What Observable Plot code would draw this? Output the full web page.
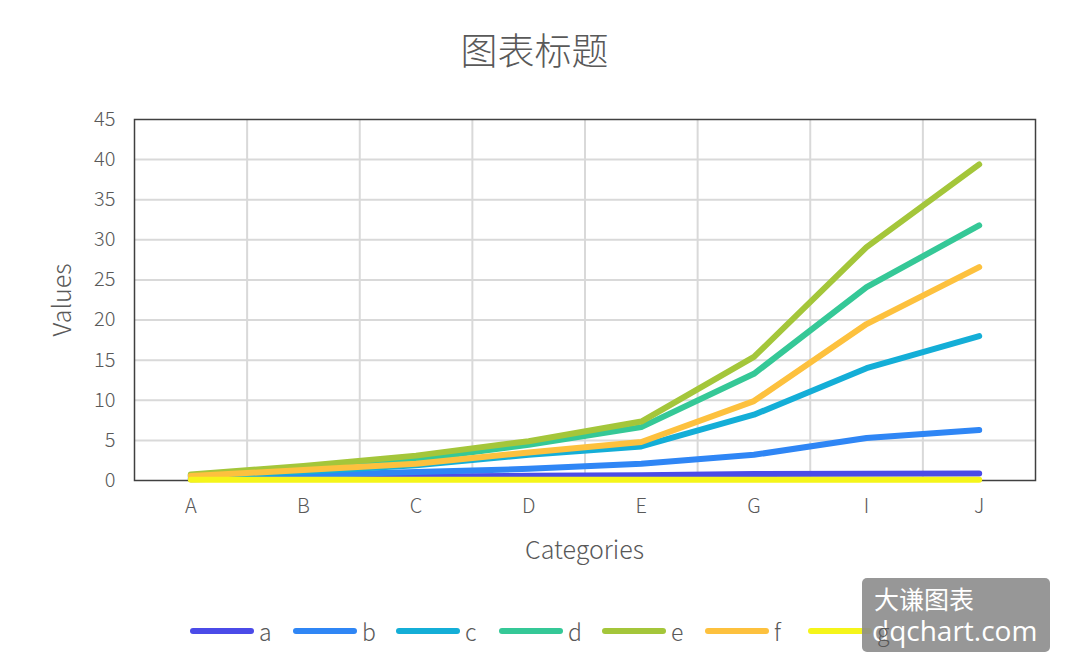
<!DOCTYPE html>
<html>
<head>
<meta charset="utf-8">
<script src="https://cdn.jsdelivr.net/npm/d3@7"></script>
<script src="https://cdn.jsdelivr.net/npm/@observablehq/plot@0.6"></script>
<style>
  html, body { margin: 0; padding: 0; background: #fff; }
  #wrap { position: relative; width: 1069px; height: 672px; overflow: hidden; font-family: "Noto Sans CJK SC", "Noto Sans", sans-serif; font-weight: 300; color: #595959; }
  #title { position: absolute; left: 0; width: 1069px; top: 24px; text-align: center; font-size: 37px; line-height: 50px; }
  #chart { position: absolute; left: 0; top: 0; }
  #xlabel { position: absolute; left: 134px; width: 901px; top: 531px; text-align: center; font-size: 25px; line-height: 34px; }
  #ylabel { position: absolute; left: 60px; top: 300px; font-size: 25px; line-height: 34px; transform: translate(-50%, -50%) rotate(-90deg); white-space: nowrap; }
  #legend { position: absolute; left: 190px; top: 614px; height: 34px; display: flex; align-items: center; }
  .item { display: flex; align-items: center; margin-right: 14px; }
  .swatch { width: 64px; height: 6px; border-radius: 3px; margin-right: 5px; }
  .lab { position: relative; z-index: 3; font-size: 23px; line-height: 34px; width: 20px; }
  #wm { position: absolute; z-index: 2; left: 862px; top: 578px; width: 188px; height: 74px; background: rgba(140,140,140,0.9); border-radius: 5px; color: #fff; font-weight: 400; }
  #wm .l1 { position: absolute; left: 12px; top: 2px; font-size: 25px; line-height: 36px; }
  #wm .l2 { position: absolute; left: 10px; top: 32px; font-size: 28px; line-height: 40px; font-family: "Open Sans", "Noto Sans", sans-serif; }
</style>
</head>
<body>
<div id="wrap">
  <div id="chart"></div>
  <div id="title">图表标题</div>
  <div id="xlabel">Categories</div>
  <div id="ylabel">Values</div>
  <div id="legend"></div>
  <div id="wm"><div class="l1">大谦图表</div><div class="l2">dqchart.com</div></div>
</div>
<script>
const categories = ["A", "B", "C", "D", "E", "G", "I", "J"];
const seriesNames = ["a", "b", "c", "d", "e", "f", "g"];
const colors = ["#4b4be8", "#2f86f5", "#14aed7", "#35c897", "#a4c63a", "#fdc13e", "#f5f51a"];
const a = [0.15, 0.35, 0.5, 0.58, 0.65, 0.8, 0.85, 0.88];
const b = [0.3, 0.65, 1.05, 1.45, 2.1, 3.2, 5.3, 6.3];
const c = [0.5, 1.1, 1.9, 3.2, 4.25, 8.2, 14.0, 18.0];
const d = [0.65, 1.5, 2.6, 4.45, 6.65, 13.3, 24.1, 31.8];
const e = [0.75, 1.8, 3.1, 4.9, 7.35, 15.4, 29.1, 39.4];
const f = [0.55, 1.3, 2.1, 3.5, 4.8, 9.9, 19.5, 26.6];
const g = [0.1, 0.1, 0.1, 0.1, 0.1, 0.1, 0.1, 0.1];
const yTicks = [0, 5, 10, 15, 20, 25, 30, 35, 40, 45];

const seriesValues = [a, b, c, d, e, f, g];
const idx = categories.map((_, i) => i);
const tables = seriesValues.map((vals, s) => vals.map((v, i) => ({i, v, s: seriesNames[s]})));

const marks = [
  Plot.ruleY(yTicks.slice(1, -1), {stroke: "#d9d9d9", strokeWidth: 2}),
  Plot.ruleX(idx.slice(0, -1), {x: i => i + 0.5, stroke: "#d9d9d9", strokeWidth: 2}),
  Plot.axisX(idx, {tickSize: 0, tickPadding: 18, fontSize: 20, fontWeight: 300, tickFormat: i => categories[i], label: null, fill: "#595959"}),
  Plot.axisY(yTicks, {tickSize: 0, tickPadding: 19, fontSize: 20, fontWeight: 300, label: null, fill: "#595959"}),
  Plot.frame({stroke: "#404040", strokeWidth: 1.5}),
  ...tables.map((t, s) => Plot.line(t, {x: "i", y: "v", stroke: colors[s], strokeWidth: 6, strokeLinecap: "round", strokeLinejoin: "round"}))
];

const chart = Plot.plot({
  width: 1069,
  height: 590,
  marginTop: 119,
  marginBottom: 110,
  marginLeft: 134,
  marginRight: 34,
  x: {domain: [-0.5, categories.length - 0.5]},
  y: {domain: [0, 45]},
  style: {fontFamily: "'Noto Sans CJK SC', 'Noto Sans', sans-serif", color: "#595959", background: "transparent"},
  marks
});
document.getElementById("chart").appendChild(chart);

const legend = document.getElementById("legend");
seriesNames.forEach((n, s) => {
  const it = document.createElement("div");
  it.className = "item";
  it.innerHTML = `<div class="swatch" style="background:${colors[s]}"></div><div class="lab">${n}</div>`;
  legend.appendChild(it);
});
</script>
</body>
</html>
